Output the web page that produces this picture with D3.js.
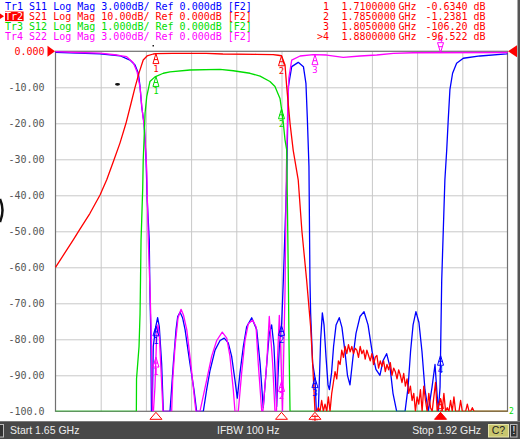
<!DOCTYPE html>
<html><head><meta charset="utf-8">
<script src="https://cdn.jsdelivr.net/npm/d3@7"></script>
<style>
html,body{margin:0;padding:0;background:#fff;overflow:hidden}
svg{display:block}
text{font-family:"DejaVu Sans Mono",monospace}
</style></head><body>
<svg id="c" width="520" height="439"></svg>
<script>
// ---------------- data ----------------
const startGHz = 1.65, stopGHz = 1.92;
const yTickValues = [0,-10,-20,-30,-40,-50,-60,-70,-80,-90,-100];
const yTickLabels = ["0.000","-10.00","-20.00","-30.00","-40.00","-50.00","-60.00","-70.00","-80.00","-90.00","-100.0"];
const headerLines = [
  ["Tr1","S11 Log Mag 3.000dB/ Ref 0.000dB [F2]"],
  ["Tr2","S21 Log Mag 10.00dB/ Ref 0.000dB [F2]"],
  ["Tr3","S12 Log Mag 1.000dB/ Ref 0.000dB [F2]"],
  ["Tr4","S22 Log Mag 3.000dB/ Ref 0.000dB [F2]"]
];
const markerIds = ["1","2","3",">4"];
const markerFreqs = [1.71, 1.785, 1.805, 1.88];
const markerValues = ["-0.6340","-1.2381","-106.20","-96.522"];
const statusTexts = ["Start 1.65 GHz","IFBW 100 Hz","Stop 1.92 GHz"];

// S11 (3 dB/div)
const s11Freq = [1.6500,1.6766,1.6885,1.6945,1.6975,1.6995,1.7005,1.7015,1.7029,1.7041,1.7048,1.7060,1.7064,1.7069,1.7073,
 1.7078,1.7084,1.7099,1.7110,1.7120,1.7134,1.7144,
 1.7184,1.7194,1.7204,1.7220,1.7230,1.7244,1.7259,1.7274,1.7303,1.7327,1.7343,
 1.7383,1.7403,1.7423,1.7453,1.7483,1.7508,1.7532,1.7552,1.7572,1.7586,
 1.7602,1.7622,1.7642,1.7672,1.7702,1.7722,1.7741,
 1.7762,1.7777,1.7791,1.7805,1.7821,1.7837,1.7851,
 1.7861,1.7881,1.7891,1.7911,1.7950,1.7981,1.7996,1.8004,1.8014,1.8020,1.8024,1.8036,1.8050,1.8058,
 1.8070,1.8077,1.8084,1.8094,1.8104,1.8116,1.8128,1.8136,
 1.8149,1.8161,1.8176,1.8195,1.8211,1.8229,1.8244,1.8259,
 1.8277,1.8295,1.8319,1.8343,1.8367,1.8391,1.8414,1.8438,
 1.8456,1.8478,1.8498,1.8516,1.8538,1.8588,
 1.8606,1.8621,1.8636,1.8653,1.8671,1.8689,1.8707,1.8727,
 1.8749,1.8767,1.8779,1.8787,1.8797,1.8807,1.8826,1.8837,1.8846,1.8856,1.8872,1.8896,1.8936,1.9036,1.9195,1.9200];
const s11Db = [-0.08,-0.22,-0.37,-0.73,-1.14,-1.83,-2.95,-4.62,-6.0,-9.06,-12.4,-15.7,-20.1,-23.2,-31,
 -31,-24.6,-22.95,-22.2,-22.95,-26,-31,
 -31,-28,-26,-23.2,-22.1,-21.75,-22.2,-23.2,-26,-28.2,-31,
 -31,-28.2,-26.6,-24.9,-24.1,-23.9,-24.3,-25.4,-27.4,-28.9,
 -26.8,-24.6,-22.95,-22.2,-23.2,-26,-29.7,
 -26,-23.5,-22.8,-24.6,-29.6,-24.6,-22.7,
 -19.1,-10.7,-2.95,-1.28,-0.92,-1.28,-2.67,-5.45,-9.6,-19.1,-21.8,-26,-27.2,-31,
 -31,-27,-24,-21.8,-22.8,-25.5,-27.8,-28.2,
 -26.8,-24.6,-22.8,-22.2,-23,-25,-27,-27.8,
 -25.5,-23.5,-22.1,-21.7,-22.8,-25,-26.5,-27,
 -25.8,-25.2,-26.3,-28.5,-31,-31,
 -28,-25,-22.8,-21.7,-22.6,-25,-28.2,-31,
 -28,-26.1,-28.5,-31,-28,-19.1,-10.7,-8.2,-5.7,-3.2,-1.83,-1.0,-0.58,-0.39,-0.22,-0.2];

// S22 (3 dB/div)
const s22Freq = [1.6500,1.6628,1.6766,1.6866,1.6925,1.6965,1.6987,1.7005,1.7017,1.7032,1.7045,1.7054,1.7064,1.7073,1.7079,
 1.7085,1.7094,1.7104,1.7112,1.7120,1.7130,1.7142,
 1.7194,1.7200,1.7214,1.7232,1.7250,1.7265,1.7284,1.7308,1.7333,1.7339,
 1.7363,1.7403,1.7433,1.7463,1.7496,1.7523,1.7542,1.7562,1.7572,
 1.7592,1.7612,1.7632,1.7652,1.7678,1.7698,1.7711,1.7732,
 1.7739,1.7762,1.7777,1.7797,1.7811,
 1.7820,1.7825,1.7837,1.7845,1.7856,
 1.7871,1.7879,1.7887,1.7894,1.7911,1.7961,1.8040,1.8120,1.8219,1.8319,1.8419,1.8518,1.8636,1.9200];
const s22Db = [-0.03,-0.1,-0.15,-0.31,-0.45,-0.95,-1.7,-3.0,-4.8,-6.5,-9.9,-15.7,-19.6,-24,-31,
 -31,-28,-23.8,-22.8,-23.6,-26.5,-31,
 -31,-27.4,-24.6,-22.2,-21.5,-22,-23.2,-26,-29.3,-31,
 -31,-27.4,-25.4,-24.1,-23.4,-23.9,-25.4,-28.2,-31,
 -31,-26.8,-24.1,-22.7,-22.4,-22.95,-26,-31,
 -31,-26,-22.1,-26,-31,
 -31,-26,-22.0,-24.6,-31,
 -20,-10,-4.9,-2.2,-0.73,-0.39,-0.28,-0.31,-0.5,-0.39,-0.31,-0.17,-0.12,-0.1];

// S12 (1 dB/div)
const s12Freq = [1.6500,1.6983,1.6984,1.6999,1.7005,1.7008,1.7011,1.7015,1.7021,1.7024,1.7029,1.7035,1.7045,1.7064,1.7094,1.7144,1.7184,1.7303,1.7483,
 1.7562,1.7662,1.7722,1.7781,1.7811,1.7841,1.7851,1.7861,1.7871,1.7881,1.7886,1.7891,1.7895,1.7901,1.7910,1.9200];
const s12Db = [-12,-12,-9.1,-8.2,-7.3,-6.3,-5.24,-4.69,-3.8,-3.02,-2.46,-1.72,-1.26,-0.84,-0.71,-0.61,-0.57,-0.52,-0.50,
 -0.54,-0.61,-0.69,-0.84,-0.98,-1.31,-1.63,-2.0,-2.46,-2.74,-4.5,-6.35,-8.2,-10.2,-12,-12];

// S21 (10 dB/div) skirt + passband
const s21Freq = [1.6500,1.6606,1.6646,1.6706,1.6766,1.6806,1.6849,1.6885,1.6921,1.6951,1.6975,1.6999,1.7024,1.7047,1.7084,1.7100,1.7200,1.7400,1.7500,
 1.7700,1.7800,1.7830,1.7850,1.7871,1.7881,1.7901,1.7920,1.7950,1.7972,1.8000,1.8024,1.8038,1.8050];
const s21Db = [-60.0,-52.4,-49.4,-45.0,-39.9,-35.7,-30.2,-25.5,-20.0,-14.5,-10.0,-6.0,-2.4,-1.3,-0.75,-0.634,-0.58,-0.60,-0.75,
 -0.83,-0.90,-1.10,-1.238,-3.8,-9.8,-20.0,-27.5,-35.8,-50.0,-63.5,-76.5,-88.5,-106.2];
// S21 measured floor, sweep points from 1.806 GHz every 1 MHz
const s21FloorStart = 1.806, s21FloorStep = 0.001;
const s21FloorDb = [-105,-99,-104,-97,-103,-98,-101,-96,-100,-95,
 -92,-89,-91,-86,-87,
 -83,-85,-82,-84,-81.5,-83.5,
 -82,-84,-82.5,-83,-85,-82,-84,-83,-85.5,-83,
 -84.5,-86,-84,-87,-85,-84.5,-88,-86,-87.5,-86,
 -89,-87,-88.5,-86.5,-90,-88,-89,-91,-88.5,-90,
 -92,-89.5,-93,-91,-95,-93,-97,-95,-100,-96,
 -98,-94,-101,-93,-97,-102,-95,-99,-104,-96,
 -92,-101,-98,-96.5,-104,-95,-101,-99,-106,-97,
 -104,-96,-107,-100,-105,-97,-108,-102,-106,-98,
 -106,-104,-99,-107,-105,-108,-101,-106,-109,-104,
 -107,-110,-102,-108,-106,-109,-103,-108,-110,-106,-109,-104,-108,-106];

// ---------------- layout ----------------
const L = 55.5, R = 507.5, T = 51.3, B = 411.3;
const svg = d3.select("#c");
const x = d3.scaleLinear().domain([startGHz, stopGHz]).range([L, R]);
const yFor = perDiv => d3.scaleLinear().domain([0, -10*perDiv]).range([T, B]).clamp(true);
const yRef = yFor(10);

svg.append("rect").attr("width",520).attr("height",439).attr("fill","#fff");

// grid
const xTicks = d3.range(11).map(i => startGHz + i*(stopGHz-startGHz)/10);
svg.append("g").attr("transform",`translate(0,${B})`)
  .call(d3.axisBottom(x).tickValues(xTicks.slice(1,-1)).tickSize(-(B-T)).tickFormat(""))
  .call(g=>{g.select(".domain").remove(); g.selectAll("line").attr("stroke","#c8c8c8");});
svg.append("g").attr("transform",`translate(${L},0)`)
  .call(d3.axisLeft(yRef).tickValues(yTickValues.slice(1,-1)).tickSize(-(R-L)).tickFormat(""))
  .call(g=>{g.select(".domain").remove(); g.selectAll("line").attr("stroke","#c8c8c8");});

// frame
svg.append("rect").attr("x",L).attr("y",T).attr("width",R-L).attr("height",B-T)
  .attr("fill","none").attr("stroke","#707070").attr("stroke-width",1.2);

// y labels
svg.append("g").attr("transform",`translate(${L},0)`)
  .call(d3.axisLeft(yRef).tickValues(yTickValues).tickSize(0).tickPadding(11).tickFormat((d,i)=>yTickLabels[i]))
  .call(g=>{g.select(".domain").remove();
    g.selectAll("text").attr("font-family","DejaVu Sans Mono").attr("font-size",10).attr("fill",(d,i)=>i===0?"#ff0000":"#555");});

// traces
const s21Freqs = s21Freq.concat(s21FloorDb.map((d,i)=>s21FloorStart + i*s21FloorStep));
const s21Vals = s21Db.concat(s21FloorDb);
const traces = [
  {name:"S11", color:"#0000ff", perDiv:3, f:s11Freq, v:s11Db},
  {name:"S22", color:"#ff00ff", perDiv:3, f:s22Freq, v:s22Db},
  {name:"S12", color:"#00dd00", perDiv:1, f:s12Freq, v:s12Db},
  {name:"S21", color:"#ff0000", perDiv:10, f:s21Freqs, v:s21Vals}
];
svg.append("defs").append("clipPath").attr("id","pc").append("rect")
  .attr("x",L-1).attr("y",T-14).attr("width",R-L+2).attr("height",B-T+14);
const gTr = svg.append("g").attr("clip-path","url(#pc)");
traces.forEach(t=>{
  const y = yFor(t.perDiv);
  const pts = t.f.map((f,i)=>[f,t.v[i]]);
  gTr.append("path").datum(pts)
    .attr("d", d3.line().x(d=>x(d[0])).y(d=>y(d[1])))
    .attr("fill","none").attr("stroke",t.color).attr("stroke-width",1.3).attr("stroke-linejoin","round");
});

// markers on traces
function valAt(t,f){
  const i = d3.bisectLeft(t.f,f);
  if(i<=0) return t.v[0];
  if(i>=t.f.length) return t.v[t.v.length-1];
  const f0=t.f[i-1], f1=t.f[i], a=(f-f0)/(f1-f0);
  return t.v[i-1] + a*(t.v[i]-t.v[i-1]);
}
const gMk = svg.append("g").attr("clip-path","url(#pc)");
traces.forEach(t=>{
  const y = yFor(t.perDiv);
  markerFreqs.forEach((f,k)=>{
    const v = valAt(t,f);
    if (v < -10*t.perDiv) return;
    const px = x(f), py = y(v);
    const up = py < T+2 ? -1 : 1;
    gMk.append("path")
      .attr("d",`M${px},${py}L${px-3},${py+10*up}L${px+3},${py+10*up}Z M${px-2},${py+6*up}L${px+2},${py+6*up}`)
      .attr("fill","none").attr("stroke",t.color).attr("stroke-width",1);
    gMk.append("text").attr("x",px).attr("y", up>0 ? py+18 : py-11)
      .attr("text-anchor","middle").attr("font-size",9).attr("fill",t.color).text(String(k+1));
  });
});

// bottom marker indicators
markerFreqs.forEach((f,k)=>{
  const px = x(f);
  const active = markerIds[k].startsWith(">");
  svg.append("path").attr("d",`M${px},${B+1}L${px-6},${B+8}L${px+6},${B+8}Z`)
    .attr("fill",active?"#ff0000":"#fff").attr("stroke","#ff0000").attr("stroke-width",1);
  if(k===2){
    svg.append("path").attr("d",`M${px-3},${B+5}L${px+3},${B+5}M${px},${B+4}L${px},${B+10}M${px-3},${B+10}L${px+3},${B+10}`)
      .attr("stroke","#ff0000").attr("fill","none");
  }
});

// reference level triangles
svg.append("path").attr("d",`M47.5,${T-5.5}L55,${T}L47.5,${T+5.5}Z`).attr("fill","#ff0000");
svg.append("path").attr("d",`M517,${T-6}L508,${T}L517,${T+6}Z`).attr("fill","#ff0000");
svg.append("text").attr("x",509).attr("y",B+3).attr("font-size",8).attr("fill","#00dd00").text("2");

// header
const hColors = ["#0000ff","#ff0000","#00dd00","#ff00ff"];
const baseY = [9.5,19.7,30,40];
headerLines.forEach((h,i)=>{
  if(i===1){
    svg.append("rect").attr("x",5).attr("y",11.5).attr("width",18.6).attr("height",9.6).attr("fill","#ff0000");
    svg.append("path").attr("d","M0,13.5L4,16.3L0,19Z").attr("fill","#ff0000");
  }
  const t = svg.append("text").attr("x",5).attr("y",baseY[i]).attr("font-size",10).attr("fill",hColors[i]).style("white-space","pre");
  t.append("tspan").attr("fill", i===1?"#fff":hColors[i]).text(h[0]);
  t.append("tspan").text(" "+h[1]);
});

// marker readouts
const fmt = d3.format(".7f");
markerFreqs.forEach((f,i)=>{
  const g = svg.append("g").attr("font-size",10).attr("fill","#ff0000");
  g.append("text").attr("x",329).attr("y",baseY[i]).attr("text-anchor","end").text(markerIds[i]);
  g.append("text").attr("x",341.5).attr("y",baseY[i]).text(fmt(f));
  g.append("text").attr("x",398.5).attr("y",baseY[i]).text("GHz");
  g.append("text").attr("x",425.5).attr("y",baseY[i]).text(markerValues[i]);
  g.append("text").attr("x",473.5).attr("y",baseY[i]).text("dB");
});

// small artifacts
svg.append("ellipse").attr("cx",117.5).attr("cy",84.3).attr("rx",2.5).attr("ry",1.4).attr("fill","#111");
svg.append("rect").attr("x",152.5).attr("y",45).attr("width",1.5).attr("height",1.5).attr("fill","#222");
svg.append("path").attr("d","M0,199 Q5,210 0,222").attr("fill","none").attr("stroke","#111").attr("stroke-width",2.5);

// status bar
const sf = "Liberation Sans, Arial, sans-serif";
svg.append("rect").attr("x",0).attr("y",421).attr("width",520).attr("height",18).attr("fill","#484848");
svg.append("line").attr("x1",0).attr("x2",520).attr("y1",421.5).attr("y2",421.5).attr("stroke","#7a7a7a");
const sb = svg.append("g").attr("font-size",10.5).attr("fill","#ececec");
sb.append("text").attr("x",10).attr("y",433.5).style("font-family",sf).text(statusTexts[0]);
sb.append("text").attr("x",217).attr("y",433.5).style("font-family",sf).text(statusTexts[1]);
sb.append("text").attr("x",481).attr("y",433.5).attr("text-anchor","end").style("font-family",sf).text(statusTexts[2]);
svg.append("rect").attr("x",488.5).attr("y",424.5).attr("width",20).attr("height",12.5).attr("fill","#c8c66e").attr("stroke","#e6e4a8");
svg.append("text").attr("x",498.5).attr("y",434).attr("text-anchor","middle").attr("font-size",10.5)
  .style("font-family",sf).attr("fill","#222").text("C?");
svg.append("rect").attr("x",510.5).attr("y",424.5).attr("width",6.5).attr("height",12.5).attr("fill","#333").attr("stroke","#bbb");
svg.append("text").attr("x",513.8).attr("y",434).attr("text-anchor","middle").attr("font-size",10)
  .style("font-family",sf).attr("fill","#fff").text("!");
svg.append("rect").attr("x",-1).attr("y",424.5).attr("width",4.5).attr("height",12.5).attr("fill","#333").attr("stroke","#bbb");
svg.append("rect").attr("x",517.5).attr("y",0).attr("width",2.5).attr("height",421).attr("fill","#555");
</script>
</body></html>
